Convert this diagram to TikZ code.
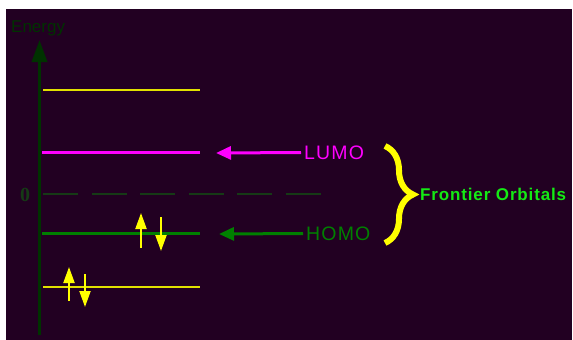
\documentclass[tikz,border=0pt]{standalone}
\usepackage{fontspec}
\setmainfont{Liberation Sans}
\newfontfamily\zerofont{Liberation Serif}
\usetikzlibrary{arrows.meta,decorations.pathreplacing}
\definecolor{bgpurple}{RGB}{34,0,34}
\definecolor{axisgreen}{RGB}{0,50,0}
\definecolor{dashgreen}{RGB}{22,58,22}
\definecolor{homogreen}{RGB}{0,128,0}
\definecolor{frontgreen}{RGB}{20,235,20}
\definecolor{lvlyellow}{RGB}{225,225,0}
\definecolor{brightyellow}{RGB}{255,255,0}
\definecolor{lumomagenta}{RGB}{255,0,255}
\begin{document}
\begin{tikzpicture}[x=1pt,y=-1pt,
  thinlevel/.style={lvlyellow,line width=1.8pt},
  thicklevel/.style={line width=3pt},
  pointer/.style={line width=3pt,-{Triangle[length=15pt,width=13pt]}},
  electron/.style={brightyellow,line width=2pt,-{Triangle[length=16pt,width=11pt]}},
  lbl/.style={inner sep=0pt,anchor=west,font=\fontsize{19.5}{20}\selectfont\addfontfeature{LetterSpace=6}}]
\useasboundingbox (0,0) rectangle (573,340);
\fill[white] (0,0) rectangle (573,340);
\fill[bgpurple] (6,9) rectangle (572,340);

% axis
\coordinate (axbot) at (39.5,335);
\coordinate (axtop) at (39.5,40);
\draw[axisgreen,line width=3.5pt,-{Triangle[length=22pt,width=15pt]}] (axbot) -- (axtop);
\node[anchor=base west,text=axisgreen,inner sep=0pt,font=\fontsize{17}{17}\selectfont] (energy) at (11,32) {Energy};

% zero level
\node[text=dashgreen,inner sep=0pt,font=\zerofont\bfseries\fontsize{20}{20}\selectfont] (zero) at (25,195) {0};
\coordinate (zl) at (43,194);
\coordinate (zr) at (323,194);
\draw[dashgreen,line width=2pt,dash pattern=on 35pt off 13.5pt] (zl) -- (zr);

% levels
\coordinate (l1a) at (43,90);   \coordinate (l1b) at (200,90);
\coordinate (l2a) at (42,152.5); \coordinate (l2b) at (200,152.5);
\coordinate (l3a) at (42,233.5); \coordinate (l3b) at (200,233.5);
\coordinate (l4a) at (43,287);  \coordinate (l4b) at (200,287);
\draw[thinlevel] (l1a) -- (l1b);
\draw[thicklevel,lumomagenta] (l2a) -- (l2b);
\draw[thicklevel,homogreen] (l3a) -- (l3b);
\draw[thinlevel] (l4a) -- (l4b);

% labels and pointers
\node[lbl,text=lumomagenta] (lumo) at (304,152.5) {LUMO};
\node[lbl,text=homogreen] (homo) at (306,233.5) {HOMO};
\coordinate (lumotip) at (216,153);
\coordinate (homotip) at (219,234);
\draw[pointer,lumomagenta,shorten <=3pt] (lumo.west) -- (lumotip);
\draw[pointer,homogreen,shorten <=3pt] (homo.west) -- (homotip);

% brace
\coordinate (brtop) at (385,146);
\coordinate (brbot) at (385,243);
\draw[brightyellow,line width=6pt,decorate,decoration={brace,amplitude=28pt}] (brtop) -- (brbot);
\node[anchor=west,inner sep=0pt,text=frontgreen,font=\bfseries\fontsize{17}{17}\selectfont\addfontfeature{LetterSpace=5}] (front) at (420,194.5) {Frontier Orbitals};

% electrons
\coordinate (e1a) at (141,248); \coordinate (e1b) at (141,213);
\coordinate (e2a) at (161,217); \coordinate (e2b) at (161,251);
\coordinate (e3a) at (69,301);  \coordinate (e3b) at (69,267);
\coordinate (e4a) at (85,274);  \coordinate (e4b) at (85,307);
\draw[electron] (e1a) -- (e1b);
\draw[electron] (e2a) -- (e2b);
\draw[electron] (e3a) -- (e3b);
\draw[electron] (e4a) -- (e4b);
\end{tikzpicture}
\end{document}
